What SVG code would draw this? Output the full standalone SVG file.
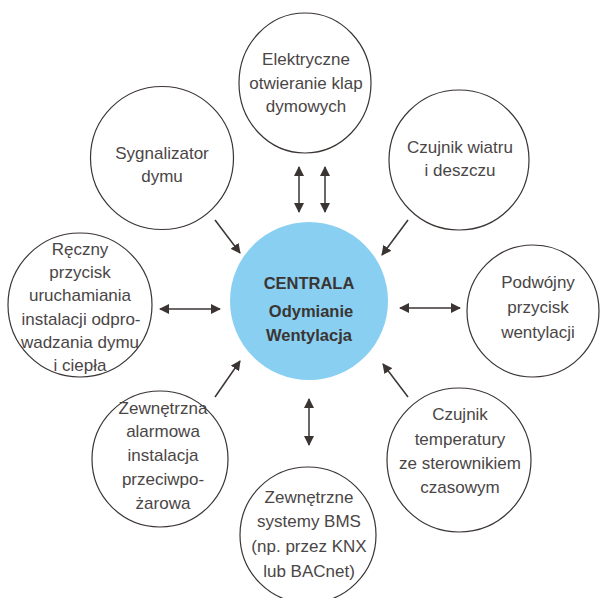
<svg xmlns="http://www.w3.org/2000/svg" width="601" height="598" viewBox="0 0 601 598">
<defs>
<style>
.node{fill:#fff;stroke:#3a3533;stroke-width:1.2}
.t{font-family:"Liberation Sans",Arial,sans-serif;font-size:17px;fill:#4a4646;text-anchor:middle}
.c{font-family:"Liberation Sans",Arial,sans-serif;font-size:16.5px;font-weight:bold;fill:#3a3533;text-anchor:middle}
.ln{stroke:#3a3533;stroke-width:1.5;fill:none}
</style>
<marker id="ah" viewBox="0 0 10 10" refX="9" refY="5" markerWidth="10" markerHeight="10" markerUnits="userSpaceOnUse" orient="auto-start-reverse">
<path d="M0,0 L10,5 L0,10 z" fill="#3a3533"/>
</marker>
</defs>
<rect width="601" height="598" fill="#fff"/>

<g id="center">
<circle cx="309" cy="301" r="79" fill="#88cff1"/>
<text class="c" x="309" y="289">CENTRALA</text>
<text class="c" x="311" y="317">Odymianie</text>
<text class="c" x="309" y="341">Wentylacja</text>
</g>

<g id="n-top">
<ellipse class="node" cx="305" cy="83" rx="66" ry="70"/>
<text class="t" x="306" y="65">Elektryczne</text>
<text class="t" x="306" y="89">otwieranie klap</text>
<text class="t" x="306" y="112">dymowych</text>
</g>

<g id="n-sygnalizator">
<circle class="node" cx="162" cy="158" r="71.5"/>
<text class="t" x="162" y="159">Sygnalizator</text>
<text class="t" x="162" y="182">dymu</text>
</g>

<g id="n-wiatr">
<circle class="node" cx="459" cy="160" r="70"/>
<text class="t" x="460" y="153">Czujnik wiatru</text>
<text class="t" x="460" y="176">i deszczu</text>
</g>

<g id="n-reczny">
<circle class="node" cx="80" cy="305" r="72"/>
<text class="t" x="80" y="255">Ręczny</text>
<text class="t" x="80" y="278">przycisk</text>
<text class="t" x="80" y="301">uruchamiania</text>
<text class="t" x="81" y="325">instalacji odpro-</text>
<text class="t" x="80" y="348">wadzania dymu</text>
<text class="t" x="80" y="371">i ciepła</text>
</g>

<g id="n-podwojny">
<circle class="node" cx="533" cy="311" r="66"/>
<text class="t" x="538" y="288">Podwójny</text>
<text class="t" x="538" y="313">przycisk</text>
<text class="t" x="538" y="338">wentylacji</text>
</g>

<g id="n-alarm">
<circle class="node" cx="160" cy="459" r="68"/>
<text class="t" x="163" y="414">Zewnętrzna</text>
<text class="t" x="163" y="437">alarmowa</text>
<text class="t" x="163" y="461">instalacja</text>
<text class="t" x="163" y="485">przeciwpo-</text>
<text class="t" x="163" y="509">żarowa</text>
</g>

<g id="n-bms">
<circle class="node" cx="308" cy="535" r="68"/>
<text class="t" x="309" y="503">Zewnętrzne</text>
<text class="t" x="309" y="527">systemy BMS</text>
<text class="t" x="309" y="552">(np. przez KNX</text>
<text class="t" x="309" y="577">lub BACnet)</text>
</g>

<g id="n-temp">
<circle class="node" cx="459" cy="460" r="72"/>
<text class="t" x="460" y="420">Czujnik</text>
<text class="t" x="460" y="445">temperatury</text>
<text class="t" x="460" y="469">ze sterownikiem</text>
<text class="t" x="460" y="493">czasowym</text>
</g>

<g id="connectors">
<line class="ln" x1="299" y1="167" x2="299" y2="212" marker-start="url(#ah)" marker-end="url(#ah)"/>
<line class="ln" x1="325" y1="167" x2="325" y2="212" marker-start="url(#ah)" marker-end="url(#ah)"/>
<line class="ln" x1="215" y1="220" x2="240" y2="253" marker-end="url(#ah)"/>
<line class="ln" x1="408" y1="220" x2="382" y2="255" marker-end="url(#ah)"/>
<line class="ln" x1="160" y1="309" x2="220" y2="309" marker-start="url(#ah)" marker-end="url(#ah)"/>
<line class="ln" x1="400" y1="308" x2="460" y2="308" marker-start="url(#ah)" marker-end="url(#ah)"/>
<line class="ln" x1="215" y1="397" x2="240" y2="361" marker-end="url(#ah)"/>
<line class="ln" x1="408" y1="397" x2="383" y2="364" marker-end="url(#ah)"/>
<line class="ln" x1="309" y1="399" x2="309" y2="445" marker-start="url(#ah)" marker-end="url(#ah)"/>
</g>
</svg>
